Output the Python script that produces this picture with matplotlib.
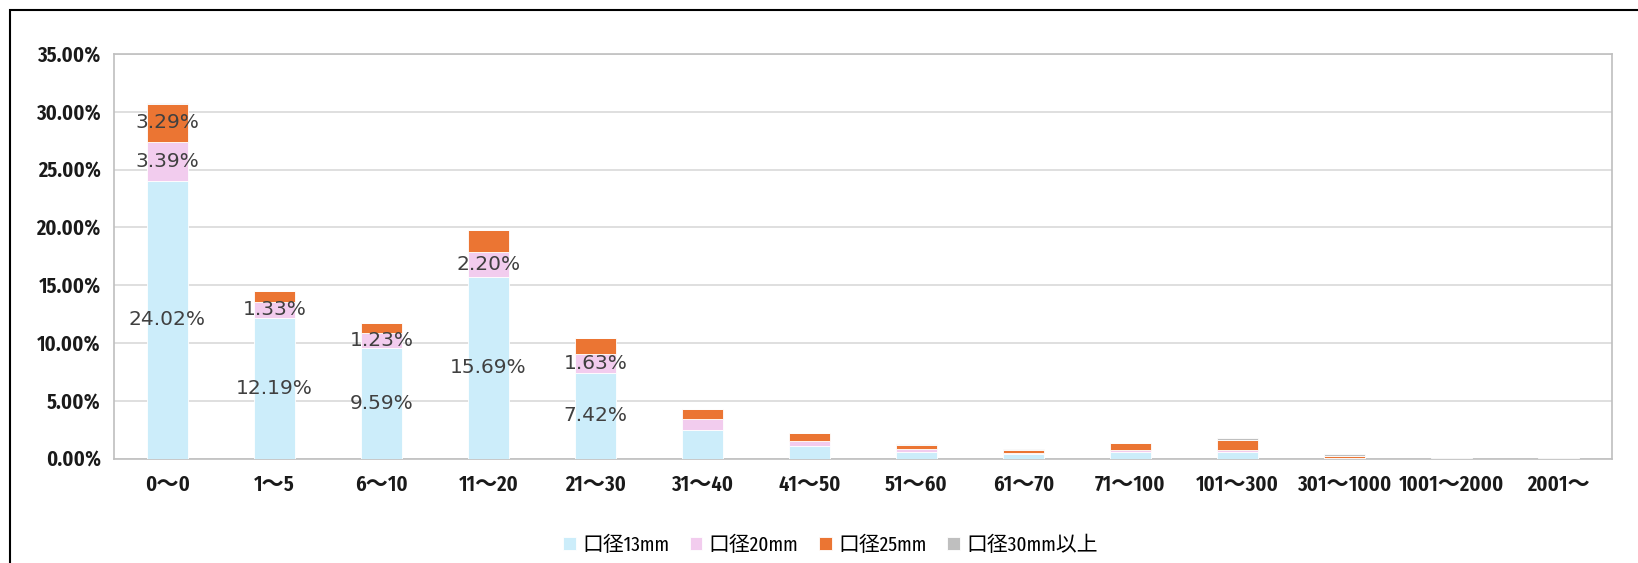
import matplotlib
matplotlib.use("Agg")
import matplotlib.pyplot as plt
import numpy as np
from matplotlib.patches import Rectangle
from matplotlib.ticker import FuncFormatter, MultipleLocator

categories = ["0～0", "1～5", "6～10", "11～20", "21～30", "31～40", "41～50",
              "51～60", "61～70", "71～100", "101～300", "301～1000", "1001～2000", "2001～"]
series_names = ["口径13mm", "口径20mm", "口径25mm", "口径30mm以上"]
d13 = [24.02, 12.19, 9.59, 15.69, 7.42, 2.43, 1.04, 0.55, 0.40, 0.55, 0.55, 0.03, 0.0, 0.0]
d20 = [3.39, 1.33, 1.23, 2.20, 1.63, 0.95, 0.49, 0.29, 0.10, 0.15, 0.21, 0.01, 0.0, 0.0]
d25 = [3.29, 0.97, 0.90, 1.88, 1.35, 0.92, 0.66, 0.37, 0.26, 0.60, 0.83, 0.21, 0.0, 0.0]
d30 = [0.10, 0.03, 0.02, 0.03, 0.03, 0.02, 0.02, 0.02, 0.03, 0.05, 0.21, 0.10, 0.03, 0.03]
# which segments carry a data label
lab13 = [1, 1, 1, 1, 1, 0, 0, 0, 0, 0, 0, 0, 0, 0]
lab20 = [1, 1, 1, 1, 1, 0, 0, 0, 0, 0, 0, 0, 0, 0]
lab25 = [1, 0, 0, 0, 0, 0, 0, 0, 0, 0, 0, 0, 0, 0]

colors = ["#CCEDFA", "#F2CCEE", "#EB7533", "#BFBFBF"]
narrow = ["Fira Sans Extra Condensed", "Noto Sans CJK JP", "DejaVu Sans"]

fig = plt.figure(figsize=(16.38, 5.63), dpi=100)
ax = fig.add_axes([114 / 1638, 1 - 458.5 / 563, (1612 - 114) / 1638, (458.5 - 54) / 563])

x = np.arange(len(categories))
series = [np.array(d13), np.array(d20), np.array(d25), np.array(d30)]
labels = [lab13, lab20, lab25, [0] * len(categories)]
bottom = np.zeros(len(categories))
handles = []
for vals, col, name, lab in zip(series, colors, series_names, labels):
    b = ax.bar(x, vals / 100, 0.39, bottom=bottom / 100, color=col,
               edgecolor="white", linewidth=0.6, label=name, zorder=3)
    handles.append(b)
    for i, v in enumerate(vals):
        if lab[i]:
            ax.text(x[i], (bottom[i] + v / 2) / 100, f"{v:.2f}%", ha="center", va="center",
                    fontsize=14.5, color="#404040", family="DejaVu Sans", zorder=4)
    bottom = bottom + vals

ax.set_xlim(-0.5, len(categories) - 0.5)
ax.set_ylim(0, 0.35)
ax.yaxis.set_major_locator(MultipleLocator(0.05))
ax.yaxis.set_major_formatter(FuncFormatter(lambda v, p: f"{v * 100:.2f}%"))
ax.set_xticks(x)
ax.set_xticklabels(categories)
ax.grid(axis="y", color="#D9D9D9", linewidth=1.2, zorder=0)
ax.tick_params(axis="x", length=0, pad=11)
ax.tick_params(axis="y", length=0, pad=9.5)
for lbl in ax.get_xticklabels() + ax.get_yticklabels():
    lbl.set_family(narrow)
    lbl.set_fontsize(16)
    lbl.set_fontweight("semibold")
    lbl.set_color("#1a1a1a")
for s in ax.spines.values():
    s.set_color("#BFBFBF")
    s.set_linewidth(1.2)

leg = fig.legend(handles=handles, labels=series_names, loc="center", bbox_to_anchor=(0.507, 1 - 545 / 563),
                 ncol=4, frameon=False, handlelength=0.6, handleheight=0.6, handletextpad=0.3,
                 columnspacing=1.0, prop={"family": narrow, "size": 15})

fig.patches.append(Rectangle((10 / 1638, -0.1), 1.2, 1 - 10 / 563 + 0.1, transform=fig.transFigure,
                             fill=False, edgecolor="black", linewidth=1.5))

fig.savefig("out.png", dpi=100)
